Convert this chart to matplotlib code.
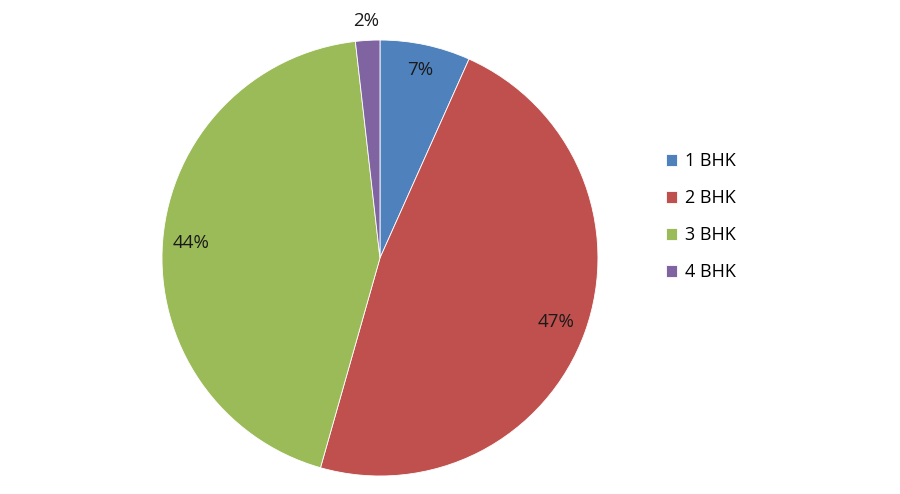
import matplotlib.pyplot as plt
import numpy as np

categories = ['1 BHK', '2 BHK', '3 BHK', '4 BHK']
shares = [6.7, 47.7, 43.8, 1.8]
pct_labels = ['7%', '47%', '44%', '2%']
colors = ['#4F81BD', '#C0504D', '#9BBB59', '#8064A2']

plt.rcParams['font.family'] = ['Open Sans', 'DejaVu Sans']

fig = plt.figure(figsize=(9, 4.94), dpi=100)
ax = fig.add_axes([0.18, 0.0364, 0.4844, 0.8826])

wedges, _ = ax.pie(shares, colors=colors, startangle=90, counterclock=False,
                   wedgeprops=dict(edgecolor='white', linewidth=0.6))

# percentage labels (the small slice sits outside)
dists = [0.88, 0.86, 0.87, 1.09]
cum = 0
for w, lab, d in zip(shares, pct_labels, dists):
    mid = 90 - (cum + w / 2) / sum(shares) * 360
    cum += w
    x = d * np.cos(np.radians(mid))
    y = d * np.sin(np.radians(mid))
    ax.text(x, y, lab, ha='center', va='center', fontsize=13.5, color='#1a1a1a')

ax.set_xlim(-1, 1)
ax.set_ylim(-1, 1)
ax.set_aspect('equal')

fig.legend(wedges, categories, loc='center left', bbox_to_anchor=(0.722, 0.561),
           frameon=False, fontsize=13, handlelength=0.6, handleheight=0.6,
           handletextpad=0.45, labelspacing=1.05)

fig.savefig('out.png', dpi=100)
